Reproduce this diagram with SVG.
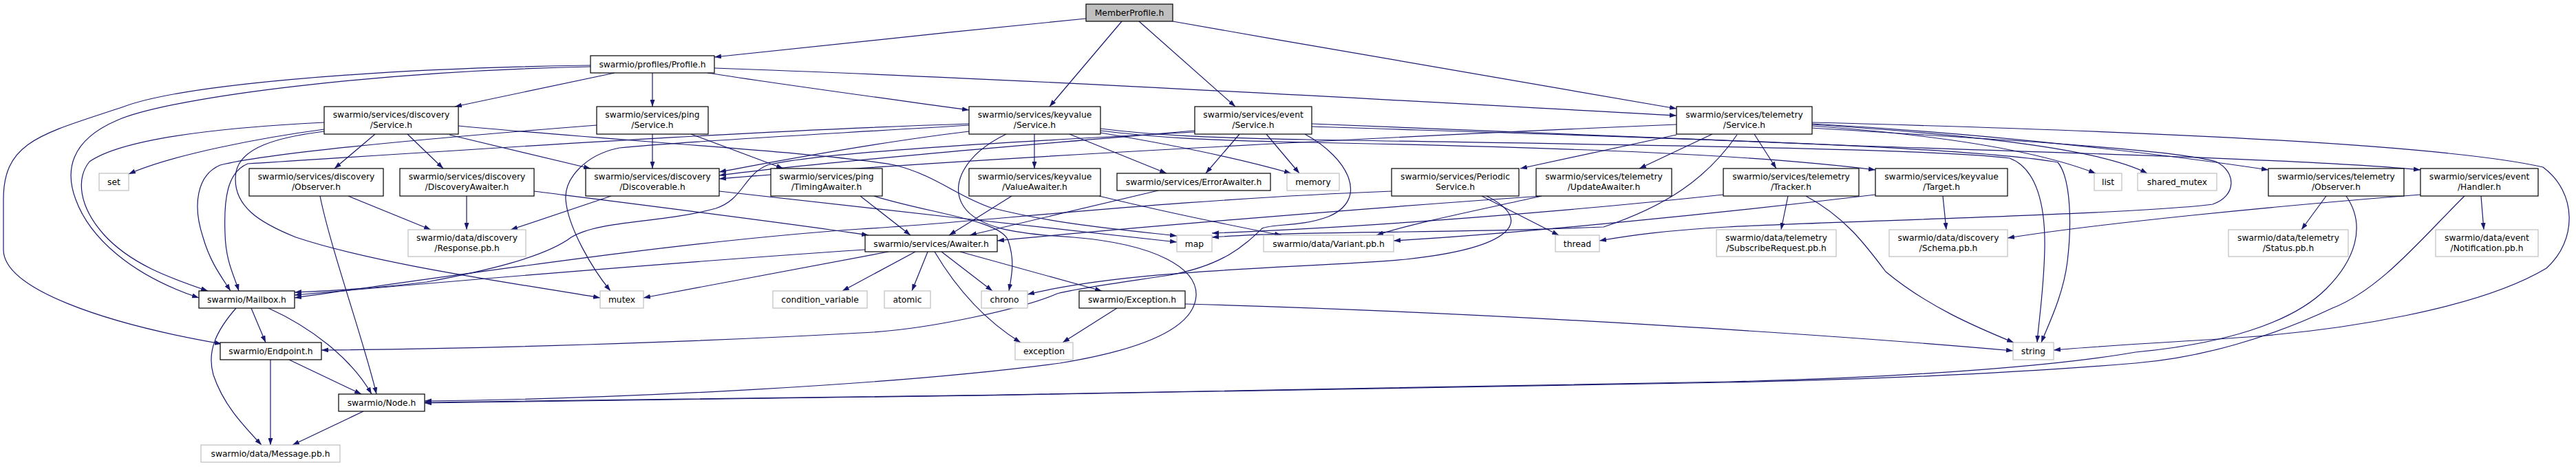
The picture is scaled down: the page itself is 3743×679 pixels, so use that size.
<svg xmlns="http://www.w3.org/2000/svg" width="3743" height="679" viewBox="0 0 3743 679">
<defs>
<marker id="ah" markerWidth="10" markerHeight="7" refX="10" refY="3.5" orient="auto" markerUnits="userSpaceOnUse">
<path d="M0,0 L10,3.5 L0,7 z" fill="#191970"/>
</marker>
<style>
text{font-family:"DejaVu Sans","Liberation Sans",sans-serif;font-size:12.3px;fill:#000;text-anchor:middle}
.n rect{fill:#fff;stroke:#000;stroke-width:1.2}
.s rect{fill:#fff;stroke:#bfbfbf;stroke-width:1.2}
.m rect{fill:#bfbfbf;stroke:#000;stroke-width:1.2}
.e path{fill:none;stroke:#191970;stroke-width:1.2;marker-end:url(#ah)}
</style>
</defs>
<rect width="3743" height="679" fill="#fff"/>
<g id="edges" class="e">
<path d="M1578,27 C1400,45 1200,65 1038,83"/>
<path d="M1630,31 L1525,155"/>
<path d="M1655,31 L1795,155"/>
<path d="M1704,31 C1950,75 2200,115 2436,158"/>
<path d="M893,106 L661,155"/>
<path d="M948,106 L948,155"/>
<path d="M1028,106 C1150,125 1300,145 1408,160"/>
<path d="M1038,99 C1500,115 2100,150 2436,168"/>
<path d="M858,97 C560,103 250,140 170,175 C100,205 95,250 110,290 C130,345 190,400 289,433"/>
<path d="M858,95 C520,100 260,125 180,155 C60,195 5,205 5,290 L5,363 C5,420 150,470 322,500"/>
<path d="M471,188 C380,200 250,225 187,253"/>
<path d="M545,195 L486,245"/>
<path d="M592,195 L644,245"/>
<path d="M653,196 L858,245"/>
<path d="M471,178 C330,185 180,200 130,235 C110,260 115,300 150,340 C190,385 250,405 302,423"/>
<path d="M471,191 C400,200 350,215 343,250 C335,300 380,325 430,345 C550,385 750,412 872,433"/>
<path d="M666,183 C900,205 1200,222 1300,240 C1360,255 1390,285 1440,302 C1530,325 1620,333 1710,343"/>
<path d="M948,195 L948,245"/>
<path d="M1004,195 L1138,245"/>
<path d="M867,182 C700,195 400,220 320,240 C285,255 280,300 295,345 C305,380 320,400 335,423"/>
<path d="M1503,195 L1503,245"/>
<path d="M1554,195 L1695,252"/>
<path d="M1599,193 C1700,210 1800,230 1876,252"/>
<path d="M1599,190 C1680,200 1750,204 1900,207 C2300,215 2550,225 2725,247"/>
<path d="M1408,191 C1250,210 1100,240 1045,250"/>
<path d="M1408,180 C1100,190 800,210 360,238 C330,250 325,290 327,340 C328,380 340,400 347,423"/>
<path d="M1408,182 C1200,195 1000,205 900,215 C850,225 820,260 822,290 C825,330 860,390 887,423"/>
<path d="M1599,187 C1680,197 1750,200 1900,203 C2300,210 2800,215 2920,230 C2960,245 2972,300 2971,360 C2970,420 2962,470 2960,498"/>
<path d="M1462,195 C1400,225 1380,270 1400,300 C1420,330 1470,340 1560,345 C1680,355 1740,390 1738,430 C1735,480 1650,510 1540,528 C1300,560 900,580 617,583"/>
<path d="M1801,195 L1752,252"/>
<path d="M1840,195 L1888,252"/>
<path d="M1906,180 C2300,195 2500,205 2700,212 C3100,225 3400,235 3517,247"/>
<path d="M1736,190 C1500,210 1200,235 1045,255"/>
<path d="M1896,195 C1960,230 1990,290 1930,315 C1890,330 1850,325 1834,332 C1810,355 1780,385 1700,400 C1620,412 1560,420 1536,427 C1490,447 1350,480 1250,484 C1000,498 700,507 467,509"/>
<path d="M1736,192 C1500,205 1200,220 1115,240 C1080,255 1080,290 1040,303 C960,325 870,320 830,345 C790,375 700,395 620,410 C540,420 480,423 428,425"/>
<path d="M1906,184 C2400,200 2850,212 2990,236 C3010,260 3010,330 3004,380 C2998,430 2975,475 2966,498"/>
<path d="M2436,196 L2209,245"/>
<path d="M2488,195 L2382,245"/>
<path d="M2549,195 L2581,245"/>
<path d="M2633,183 C2800,195 2950,215 3045,252"/>
<path d="M2633,181 C2850,195 3050,215 3120,252"/>
<path d="M2633,180 C2900,195 3150,225 3296,247"/>
<path d="M2436,181 C2100,195 1400,230 1045,260"/>
<path d="M2633,186 C2850,200 3150,215 3220,235 C3250,250 3250,285 3215,297 C3100,312 2650,322 2510,330 C2420,335 2370,342 2324,350"/>
<path d="M2633,178 C3100,190 3550,210 3695,243 C3745,280 3745,350 3700,390 C3600,450 3400,480 3266,490 C3150,498 3050,503 2984,509"/>
<path d="M2524,196 C2480,260 2420,300 2330,330 C2100,340 1900,335 1761,345"/>
<path d="M506,285 L626,334"/>
<path d="M465,285 C480,360 530,500 547,573"/>
<path d="M678,285 L678,334"/>
<path d="M776,278 C950,300 1150,325 1262,342"/>
<path d="M888,285 L742,334"/>
<path d="M1045,278 C1250,300 1500,330 1710,352"/>
<path d="M1250,285 L1323,342"/>
<path d="M1270,285 C1350,310 1455,320 1465,350 C1475,380 1470,400 1466,423"/>
<path d="M1470,285 L1379,342"/>
<path d="M1597,285 C1700,310 1800,330 1862,342"/>
<path d="M1683,277 L1409,342"/>
<path d="M2240,285 C1950,305 1600,335 1449,350"/>
<path d="M2240,285 C2150,305 2050,325 2000,342"/>
<path d="M2153,285 L2265,342"/>
<path d="M2160,285 C2230,320 2200,360 2043,377 C1900,390 1650,390 1493,428"/>
<path d="M2022,278 C1700,290 1400,325 1250,333 C1000,350 700,395 428,433"/>
<path d="M2598,285 L2588,334"/>
<path d="M2624,285 C2680,315 2710,355 2740,395 C2800,445 2870,475 2926,498"/>
<path d="M2504,283 C2300,305 2000,330 1761,339"/>
<path d="M2823,285 L2828,334"/>
<path d="M2725,283 C2500,310 2200,340 2025,350"/>
<path d="M3380,285 L3344,334"/>
<path d="M3409,285 C3440,330 3420,380 3380,420 C3330,470 3230,500 3103,512 C3000,530 2800,548 2510,555 C2000,568 1200,578 617,585"/>
<path d="M3605,285 L3609,334"/>
<path d="M3581,285 C3520,345 3460,420 3389,448 C3300,490 3200,520 3103,528 C2900,545 2700,552 2510,556 C2000,568 1200,578 617,586"/>
<path d="M3517,283 C3300,300 3050,325 2917,346"/>
<path d="M1257,363 C1000,380 700,405 428,429"/>
<path d="M1291,366 L935,433"/>
<path d="M1330,366 L1224,423"/>
<path d="M1348,366 L1325,423"/>
<path d="M1368,366 L1442,423"/>
<path d="M1358,366 C1390,420 1430,465 1483,498"/>
<path d="M1395,366 L1601,423"/>
<path d="M1623,448 L1544,498"/>
<path d="M1722,442 C2200,455 2700,490 2925,510"/>
<path d="M365,448 L386,498"/>
<path d="M390,448 C450,475 510,520 540,573"/>
<path d="M343,448 C315,480 300,510 310,545 C325,590 355,620 380,647"/>
<path d="M420,523 L525,573"/>
<path d="M393,523 L393,647"/>
<path d="M528,598 L425,647"/>
</g>
<g id="MemberProfile" class="m"><rect x="1578" y="6" width="126" height="25"/><text x="1641" y="23">MemberProfile.h</text></g>
<g id="Profile" class="n"><rect x="858" y="81" width="180" height="25"/><text x="948" y="98">swarmio/profiles/Profile.h</text></g>
<g id="discService" class="n"><rect x="471" y="155" width="195" height="40"/><text x="568.5" y="171">swarmio/services/discovery</text><text x="568.5" y="186">/Service.h</text></g>
<g id="pingService" class="n"><rect x="867" y="155" width="162" height="40"/><text x="948" y="171">swarmio/services/ping</text><text x="948" y="186">/Service.h</text></g>
<g id="kvService" class="n"><rect x="1408" y="155" width="191" height="40"/><text x="1503.5" y="171">swarmio/services/keyvalue</text><text x="1503.5" y="186">/Service.h</text></g>
<g id="evService" class="n"><rect x="1736" y="155" width="170" height="40"/><text x="1821" y="171">swarmio/services/event</text><text x="1821" y="186">/Service.h</text></g>
<g id="telService" class="n"><rect x="2436" y="155" width="197" height="40"/><text x="2534.5" y="171">swarmio/services/telemetry</text><text x="2534.5" y="186">/Service.h</text></g>
<g id="set" class="s"><rect x="144" y="252" width="43" height="25"/><text x="165.5" y="269">set</text></g>
<g id="discObserver" class="n"><rect x="362" y="245" width="195" height="40"/><text x="459.5" y="261">swarmio/services/discovery</text><text x="459.5" y="276">/Observer.h</text></g>
<g id="DiscoveryAwaiter" class="n"><rect x="581" y="245" width="195" height="40"/><text x="678.5" y="261">swarmio/services/discovery</text><text x="678.5" y="276">/DiscoveryAwaiter.h</text></g>
<g id="Discoverable" class="n"><rect x="851" y="245" width="194" height="40"/><text x="948" y="261">swarmio/services/discovery</text><text x="948" y="276">/Discoverable.h</text></g>
<g id="TimingAwaiter" class="n"><rect x="1120" y="245" width="162" height="40"/><text x="1201" y="261">swarmio/services/ping</text><text x="1201" y="276">/TimingAwaiter.h</text></g>
<g id="ValueAwaiter" class="n"><rect x="1408" y="245" width="191" height="40"/><text x="1503.5" y="261">swarmio/services/keyvalue</text><text x="1503.5" y="276">/ValueAwaiter.h</text></g>
<g id="ErrorAwaiter" class="n"><rect x="1623" y="252" width="223" height="25"/><text x="1734.5" y="269">swarmio/services/ErrorAwaiter.h</text></g>
<g id="memory" class="s"><rect x="1870" y="252" width="76" height="25"/><text x="1908" y="269">memory</text></g>
<g id="PeriodicService" class="n"><rect x="2022" y="245" width="185" height="40"/><text x="2114.5" y="261">swarmio/services/Periodic</text><text x="2114.5" y="276">Service.h</text></g>
<g id="UpdateAwaiter" class="n"><rect x="2232" y="245" width="197" height="40"/><text x="2330.5" y="261">swarmio/services/telemetry</text><text x="2330.5" y="276">/UpdateAwaiter.h</text></g>
<g id="Tracker" class="n"><rect x="2504" y="245" width="197" height="40"/><text x="2602.5" y="261">swarmio/services/telemetry</text><text x="2602.5" y="276">/Tracker.h</text></g>
<g id="Target" class="n"><rect x="2725" y="245" width="192" height="40"/><text x="2821" y="261">swarmio/services/keyvalue</text><text x="2821" y="276">/Target.h</text></g>
<g id="list" class="s"><rect x="3043" y="252" width="40" height="25"/><text x="3063" y="269">list</text></g>
<g id="shared_mutex" class="s"><rect x="3106" y="252" width="115" height="25"/><text x="3163.5" y="269">shared_mutex</text></g>
<g id="telObserver" class="n"><rect x="3296" y="245" width="197" height="40"/><text x="3394.5" y="261">swarmio/services/telemetry</text><text x="3394.5" y="276">/Observer.h</text></g>
<g id="Handler" class="n"><rect x="3517" y="245" width="171" height="40"/><text x="3602.5" y="261">swarmio/services/event</text><text x="3602.5" y="276">/Handler.h</text></g>
<g id="Response" class="s"><rect x="593" y="334" width="171" height="39"/><text x="678.5" y="350">swarmio/data/discovery</text><text x="678.5" y="365">/Response.pb.h</text></g>
<g id="Awaiter" class="n"><rect x="1257" y="342" width="192" height="24"/><text x="1353" y="358.5">swarmio/services/Awaiter.h</text></g>
<g id="map" class="s"><rect x="1710" y="342" width="51" height="24"/><text x="1735.5" y="358.5">map</text></g>
<g id="Variant" class="s"><rect x="1836" y="342" width="189" height="24"/><text x="1930.5" y="358.5">swarmio/data/Variant.pb.h</text></g>
<g id="thread" class="s"><rect x="2260" y="342" width="64" height="24"/><text x="2292" y="358.5">thread</text></g>
<g id="SubscribeRequest" class="s"><rect x="2494" y="334" width="174" height="39"/><text x="2581" y="350">swarmio/data/telemetry</text><text x="2581" y="365">/SubscribeRequest.pb.h</text></g>
<g id="Schema" class="s"><rect x="2745" y="334" width="172" height="39"/><text x="2831" y="350">swarmio/data/discovery</text><text x="2831" y="365">/Schema.pb.h</text></g>
<g id="Status" class="s"><rect x="3238" y="334" width="174" height="39"/><text x="3325" y="350">swarmio/data/telemetry</text><text x="3325" y="365">/Status.pb.h</text></g>
<g id="Notification" class="s"><rect x="3539" y="334" width="149" height="39"/><text x="3613.5" y="350">swarmio/data/event</text><text x="3613.5" y="365">/Notification.pb.h</text></g>
<g id="Mailbox" class="n"><rect x="289" y="423" width="139" height="25"/><text x="358.5" y="440">swarmio/Mailbox.h</text></g>
<g id="mutex" class="s"><rect x="872" y="423" width="63" height="25"/><text x="903.5" y="440">mutex</text></g>
<g id="condition_variable" class="s"><rect x="1123" y="423" width="137" height="25"/><text x="1191.5" y="440">condition_variable</text></g>
<g id="atomic" class="s"><rect x="1285" y="423" width="67" height="25"/><text x="1318.5" y="440">atomic</text></g>
<g id="chrono" class="s"><rect x="1426" y="423" width="67" height="25"/><text x="1459.5" y="440">chrono</text></g>
<g id="Exception" class="n"><rect x="1568" y="423" width="154" height="25"/><text x="1645" y="440">swarmio/Exception.h</text></g>
<g id="Endpoint" class="n"><rect x="320" y="498" width="147" height="25"/><text x="393.5" y="515">swarmio/Endpoint.h</text></g>
<g id="exception" class="s"><rect x="1475" y="498" width="84" height="25"/><text x="1517" y="515">exception</text></g>
<g id="string" class="s"><rect x="2925" y="498" width="59" height="25"/><text x="2954.5" y="515">string</text></g>
<g id="Node" class="n"><rect x="492" y="573" width="125" height="25"/><text x="554.5" y="590">swarmio/Node.h</text></g>
<g id="Message" class="s"><rect x="292" y="647" width="202" height="25"/><text x="393" y="664">swarmio/data/Message.pb.h</text></g>
</svg>
